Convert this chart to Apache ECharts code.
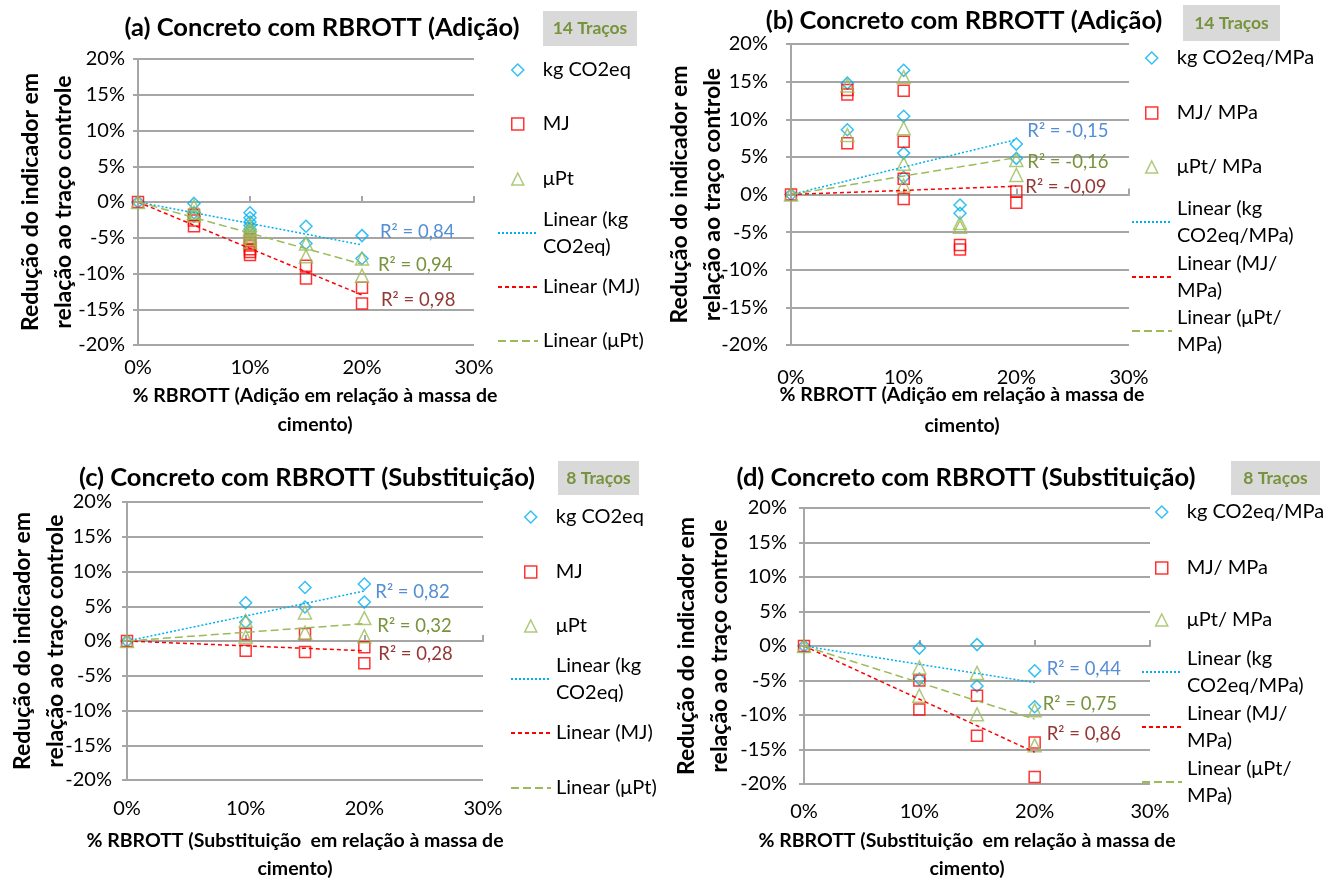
<!DOCTYPE html>
<html><head><meta charset="utf-8">
<script src="https://cdn.jsdelivr.net/npm/echarts@6/dist/echarts.min.js"></script>
<style>html,body{margin:0;padding:0;background:#fff}#c{width:1336px;height:884px}</style>
</head><body><div id="c"></div>
<script>
// ---------------- DATA ----------------
const panelTitles = ['(a) Concreto com RBROTT (Adição)', '(b) Concreto com RBROTT (Adição)',
  '(c) Concreto com RBROTT (Substituição)', '(d) Concreto com RBROTT (Substituição)'];
const tracos = ['14 Traços', '14 Traços', '8 Traços', '8 Traços'];
const xNames = ['% RBROTT (Adição em relação à massa de\ncimento)', '% RBROTT (Adição em relação à massa de\ncimento)',
  '% RBROTT (Substituição  em relação à massa de\ncimento)', '% RBROTT (Substituição  em relação à massa de\ncimento)'];
const yName = 'Redução do indicador em\nrelação ao traço controle';
const namesAbs = ['kg CO2eq', 'MJ', 'μPt'];
const namesMPa = ['kg CO2eq/MPa', 'MJ/ MPa', 'μPt/ MPa'];

// (a) Adição – absolute indicators (x = % RBROTT, y = % reduction)
const a_co2 = [[0,0],[5,-0.2],[5,-1.5],[5,-2.0],[10,-1.5],[10,-2.2],[10,-2.8],[10,-3.3],[10,-3.8],[10,-4.2],[15,-3.4],[15,-5.8],[20,-4.7],[20,-7.9]];
const a_mj  = [[0,0],[5,-1.8],[5,-2.6],[5,-3.4],[10,-5.2],[10,-5.7],[10,-6.1],[10,-6.6],[10,-7.0],[10,-7.4],[15,-8.9],[15,-10.7],[20,-12.0],[20,-14.2]];
const a_upt = [[0,0],[5,-0.6],[5,-1.5],[5,-1.9],[10,-3.2],[10,-3.8],[10,-4.2],[10,-4.7],[10,-5.2],[10,-5.6],[15,-5.8],[15,-7.6],[20,-7.9],[20,-10.3]];
const a_trend_co2 = [[0,0],[20,-6.0]];
const a_trend_mj  = [[0,0],[20,-13.0]];
const a_trend_upt = [[0,0],[20,-8.7]];
const a_r2 = ['R² = 0,84', 'R² = 0,98', 'R² = 0,94'];

// (b) Adição – per MPa
const b_co2 = [[0,0],[5,14.8],[5,8.6],[10,16.5],[10,10.4],[10,5.5],[10,2.3],[15,-1.4],[15,-2.5],[20,6.7],[20,4.8]];
const b_mj  = [[0,0],[5,13.9],[5,13.3],[5,6.8],[10,13.8],[10,7.0],[10,2.1],[10,-0.6],[15,-6.7],[15,-7.3],[20,0.4],[20,-1.1]];
const b_upt = [[0,0],[5,14.5],[5,7.9],[10,15.6],[10,8.8],[10,4.1],[10,1.2],[15,-3.8],[15,-4.3],[20,4.6],[20,2.6]];
const b_trend_co2 = [[0,0],[20,7.3]];
const b_trend_mj  = [[0,0],[20,1.1]];
const b_trend_upt = [[0,0],[20,4.9]];
const b_r2 = ['R² = -0,15', 'R² = -0,09', 'R² = -0,16'];

// (c) Substituição – absolute
const c_co2 = [[0,0],[10,5.5],[10,2.7],[15,7.7],[15,4.9],[20,8.2],[20,5.6]];
const c_mj  = [[0,0],[10,1.0],[10,-1.4],[15,1.0],[15,-1.6],[20,-0.9],[20,-3.2]];
const c_upt = [[0,0],[10,2.9],[10,0.6],[15,4.1],[15,1.2],[20,3.3],[20,0.7]];
const c_trend_co2 = [[0,0],[20,7.2]];
const c_trend_mj  = [[0,0],[20,-1.4]];
const c_trend_upt = [[0,0],[20,2.5]];
const c_r2 = ['R² = 0,82', 'R² = 0,28', 'R² = 0,32'];

// (d) Substituição – per MPa
const d_co2 = [[0,0],[10,-0.3],[10,-4.8],[15,0.2],[15,-5.8],[20,-3.6],[20,-8.8]];
const d_mj  = [[0,0],[10,-5.0],[10,-9.2],[15,-7.2],[15,-13.0],[20,-14.0],[20,-19.0]];
const d_upt = [[0,0],[10,-3.1],[10,-7.2],[15,-3.9],[15,-9.9],[20,-9.3],[20,-14.4]];
const d_trend_co2 = [[0,0],[20,-5.3]];
const d_trend_mj  = [[0,0],[20,-15.4]];
const d_trend_upt = [[0,0],[20,-10.6]];
const d_r2 = ['R² = 0,44', 'R² = 0,86', 'R² = 0,75'];

// ---------------- LAYOUT / STYLE ----------------
const FONT = 'Lato';
const GRID_C = '#A6A6A6';
const markColors = ['#00B0F0', '#FF0000', '#9BBB59'];
const lineColors = ['#00B0F0', '#FF0000', '#9BBB59'];
const lineDash = [[2, 2], [4, 3], [8, 4]];
const labelColors = ['#558ED5', '#953735', '#77933C'];
const symbols = ['diamond', 'rect', 'triangle'];
const symSizes = [12, 11, 13];

const panels = [
  { names: namesAbs, pts: [a_co2, a_mj, a_upt], trends: [a_trend_co2, a_trend_mj, a_trend_upt], r2: a_r2,
    grid: {left: 138, top: 59, width: 336, height: 286}, yLM: 13, xLM: 13, xNameGap: 36, xNameLH: 29, xNamePad: [0,0,0,18], yNameGap: 58,
    lblOff: [[13,-13],[14,5],[11,1]], legLeft: 497, legCy: [70,124,179,233,287,341], two: [0,0,0,1,0,0],
    title: {x: 322, y: 28}, box: {x: 543, y: 11, w: 94, h: 35} },
  { names: namesMPa, pts: [b_co2, b_mj, b_upt], trends: [b_trend_co2, b_trend_mj, b_trend_upt], r2: b_r2,
    grid: {left: 791, top: 44, width: 338, height: 301}, yLM: 23, xLM: 23, xNameGap: 34, xNameLH: 31, xNamePad: [0,0,0,4], yNameGap: 62,
    lblOff: [[6,-9],[4,1],[6,4.5]], legLeft: 1131, legCy: [58,113,167,222,277,331], two: [0,0,0,1,1,1],
    title: {x: 964, y: 21}, box: {x: 1183, y: 5, w: 97, h: 36} },
  { names: namesAbs, pts: [c_co2, c_mj, c_upt], trends: [c_trend_co2, c_trend_mj, c_trend_upt], r2: c_r2,
    grid: {left: 127, top: 502, width: 356, height: 284}, yLM: 15, xLM: 19, xNameGap: 47, xNameLH: 28, xNamePad: [0,20,0,0], yNameGap: 55,
    lblOff: [[6,1],[9,3],[8,2]], legLeft: 510, legCy: [517,572,626,679,733,788], two: [0,0,0,1,0,0],
    title: {x: 307, y: 478}, box: {x: 558, y: 461, w: 81, h: 34} },
  { names: namesMPa, pts: [d_co2, d_mj, d_upt], trends: [d_trend_co2, d_trend_mj, d_trend_upt], r2: d_r2,
    grid: {left: 804, top: 508, width: 346, height: 281}, yLM: 17, xLM: 18, xNameGap: 43, xNameLH: 28, xNamePad: [0,20,0,0], yNameGap: 68,
    lblOff: [[7,-14],[7,-18],[3,-15]], legLeft: 1141, legCy: [512,568,620,672,727,782], two: [0,0,0,1,1,1],
    title: {x: 966, y: 478}, box: {x: 1231, y: 461, w: 89, h: 34} }
];

const grids = [], xAxes = [], yAxes = [], series = [], legends = [], graphics = [];

function mkLegend(name, legLeft, cy, twoLine, isLine, color) {
  const lg = {
    data: [name], top: twoLine ? cy - 40.5 : cy - 13.5,
    orient: 'vertical', padding: 0, itemGap: 0, itemHeight: 12,
    formatter: n => twoLine ? n.replace(/ (?=[^ ]*$)/, '\n') : n,
    textStyle: {fontFamily: FONT, fontSize: 20, lineHeight: 27, color: '#000', padding: twoLine ? [27, 0, 0, 0] : 0}
  };
  if (isLine) {
    lg.left = legLeft; lg.itemWidth = 40;
    lg.itemStyle = {opacity: 0, borderWidth: 0};
  } else {
    lg.left = legLeft + 14; lg.itemWidth = 12;
    lg.textStyle.padding = [0, 0, 0, 14];
    lg.itemStyle = {color: 'rgba(0,0,0,0)', borderColor: color, borderWidth: 1.5};
  }
  return lg;
}

panels.forEach((p, i) => {
  grids.push(Object.assign({containLabel: false}, p.grid));
  xAxes.push({
    gridIndex: i, type: 'value', min: 0, max: 30, interval: 10, position: 'bottom',
    axisLine: {show: false, onZero: false}, axisTick: {show: false}, splitLine: {show: false},
    axisLabel: {formatter: '{value}%', margin: p.xLM, fontFamily: FONT, fontSize: 20, color: '#000'},
    name: xNames[i], nameLocation: 'middle', nameGap: p.xNameGap, nameMoveOverlap: false,
    nameTextStyle: {fontFamily: FONT, fontWeight: 'bold', fontSize: 19.5, lineHeight: p.xNameLH, color: '#000', padding: p.xNamePad}
  });
  xAxes.push({
    gridIndex: i, type: 'value', min: 0, max: 30, interval: 10, position: 'top',
    axisLine: {show: true, onZero: true, lineStyle: {color: GRID_C, width: 2}},
    axisTick: {show: true, length: 6, lineStyle: {color: GRID_C, width: 2}},
    axisLabel: {show: false}, splitLine: {show: false}
  });
  yAxes.push({
    gridIndex: i, type: 'value', min: -20, max: 20, interval: 5,
    axisLine: {show: true, onZero: false, lineStyle: {color: GRID_C, width: 2}},
    axisTick: {show: true, length: 5, lineStyle: {color: GRID_C, width: 2}},
    splitLine: {show: true, lineStyle: {color: GRID_C, width: 2}},
    axisLabel: {formatter: '{value}%', margin: p.yLM, fontFamily: FONT, fontSize: 20, color: '#000'},
    name: yName, nameLocation: 'middle', nameGap: p.yNameGap, nameRotate: 90, nameMoveOverlap: false,
    nameTextStyle: {fontFamily: FONT, fontWeight: 'bold', fontSize: 23, lineHeight: 33, color: '#000'}
  });
  for (let k = 0; k < 3; k++) {
    series.push({
      type: 'scatter', name: p.names[k], xAxisIndex: 2 * i, yAxisIndex: i, data: p.pts[k],
      symbol: symbols[k], symbolSize: symSizes[k], z: 3,
      itemStyle: {color: 'rgba(0,0,0,0)', borderColor: markColors[k], borderWidth: 1.5}
    });
  }
  for (let k = 0; k < 3; k++) {
    series.push({
      type: 'line', name: 'Linear (' + p.names[k] + ')', xAxisIndex: 2 * i, yAxisIndex: i,
      symbol: 'none', showSymbol: false, z: 4, silent: true, animation: false,
      itemStyle: {color: lineColors[k]},
      lineStyle: {color: lineColors[k], width: 1.5, type: lineDash[k]},
      endLabel: {show: true, distance: 5, offset: p.lblOff[k], formatter: p.r2[k],
        fontFamily: FONT, fontSize: 18.5, color: labelColors[k]},
      data: p.trends[k]
    });
  }
  for (let k = 0; k < 3; k++) legends.push(mkLegend(p.names[k], p.legLeft, p.legCy[k], !!p.two[k], false, markColors[k]));
  for (let k = 0; k < 3; k++) legends.push(mkLegend('Linear (' + p.names[k] + ')', p.legLeft, p.legCy[k + 3], !!p.two[k + 3], true, lineColors[k]));

  graphics.push({type: 'text', x: p.title.x, y: p.title.y,
    style: {text: panelTitles[i], fontFamily: FONT, fontWeight: 'bold', fontSize: 25.5, fill: '#000', align: 'center', verticalAlign: 'middle'}});
  graphics.push({type: 'rect', shape: {x: p.box.x, y: p.box.y, width: p.box.w, height: p.box.h}, style: {fill: '#D9D9D9'}});
  graphics.push({type: 'text', x: p.box.x + p.box.w / 2, y: p.box.y + p.box.h / 2,
    style: {text: tracos[i], fontFamily: FONT, fontWeight: 'bold', fontSize: 17.5, fill: '#77933C', align: 'center', verticalAlign: 'middle'}});
});

const chart = echarts.init(document.getElementById('c'), null, {renderer: 'canvas'});
chart.setOption({
  animation: false,
  backgroundColor: '#fff',
  grid: grids, xAxis: xAxes, yAxis: yAxes, series: series, legend: legends, graphic: graphics
});
</script></body></html>
